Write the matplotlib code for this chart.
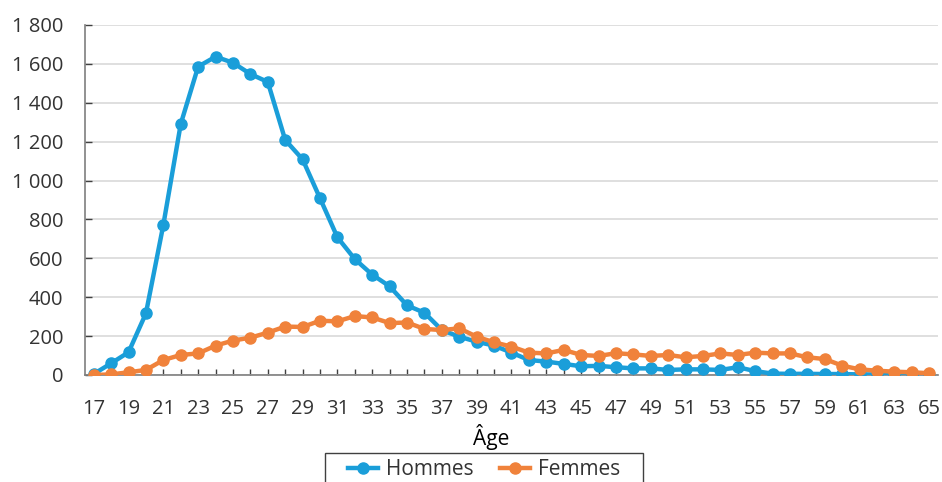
import matplotlib
matplotlib.use("Agg")
import matplotlib.pyplot as plt
from matplotlib.patches import Rectangle
from matplotlib.ticker import FuncFormatter, MultipleLocator

plt.rcParams['font.family'] = ['Open Sans', 'DejaVu Sans']
plt.rcParams['text.color'] = '#333333'
plt.rcParams['xtick.color'] = '#333333'
plt.rcParams['ytick.color'] = '#333333'

# Données
ages = list(range(17, 66))
hommes = [5, 60, 117, 317, 772, 1291, 1586, 1637, 1606, 1548,
          1507, 1209, 1109, 909, 708, 596, 516, 456, 358, 320,
          231, 197, 171, 151, 115, 77, 69, 57, 45, 47,
          40, 34, 34, 26, 29, 29, 26, 40, 20, 7,
          6, 6, 5, 5, 3, 3, 3, 3, 1]
femmes = [0, 3, 14, 26, 77, 103, 111, 151, 177, 192,
          218, 249, 247, 279, 276, 303, 296, 267, 270, 237,
          231, 240, 197, 168, 146, 115, 111, 129, 103, 98,
          112, 106, 98, 103, 91, 98, 111, 103, 115, 111,
          111, 91, 82, 48, 29, 22, 17, 14, 9]

BLEU = '#1A9ED9'
ORANGE = '#F0823B'

fig = plt.figure(figsize=(9.42, 4.82), dpi=100)
ax = fig.add_axes([85/942, 1-375/482, 853/942, 350/482])

ax.plot(ages, hommes, color=BLEU, lw=3.2, marker='o', ms=8, label='Hommes', zorder=3)
ax.plot(ages, femmes, color=ORANGE, lw=3.2, marker='o', ms=8, label='Femmes', zorder=4)

ax.set_xlim(16.5, 65.5)
ax.set_ylim(0, 1800)
ax.set_xticks(range(17, 66, 2))
ax.xaxis.set_minor_locator(MultipleLocator(1))
ax.yaxis.set_major_locator(MultipleLocator(200))
ax.yaxis.set_major_formatter(FuncFormatter(lambda v, p: f"{int(v):,}".replace(",", " ")))

ax.grid(axis='y', color='#D9D9D9', lw=1.2, zorder=0)
ax.set_axisbelow(True)
for s in ['top', 'right']:
    ax.spines[s].set_visible(False)
for s in ['left', 'bottom']:
    ax.spines[s].set_color('#7F7F7F')
    ax.spines[s].set_linewidth(1.2)

ax.tick_params(axis='x', which='both', direction='in', length=4, width=1, color='#404040',
               labelsize=14.5, pad=17.5)
ax.tick_params(axis='y', which='major', direction='in', length=5, width=1, color='#404040',
               labelsize=14.5, pad=15.5)

ax.set_xlabel('Âge', fontsize=15)
ax.xaxis.set_label_coords((491-85)/853, -0.14)

# légende (cadre dessiné à part, coupé en bas comme l'original)
fig.legend(loc='upper center', bbox_to_anchor=(484/942, 1-455/482), ncol=2, fontsize=15,
           frameon=False, handlelength=1.45, columnspacing=1.3, borderpad=0.2,
           handletextpad=0.35, borderaxespad=0)
fig.patches.append(Rectangle((325/942, -0.05), 318/942, 0.05 + 1-453/482,
                             transform=fig.transFigure, fill=False,
                             edgecolor='#404040', lw=1.0))

fig.savefig('out.png', dpi=100)
